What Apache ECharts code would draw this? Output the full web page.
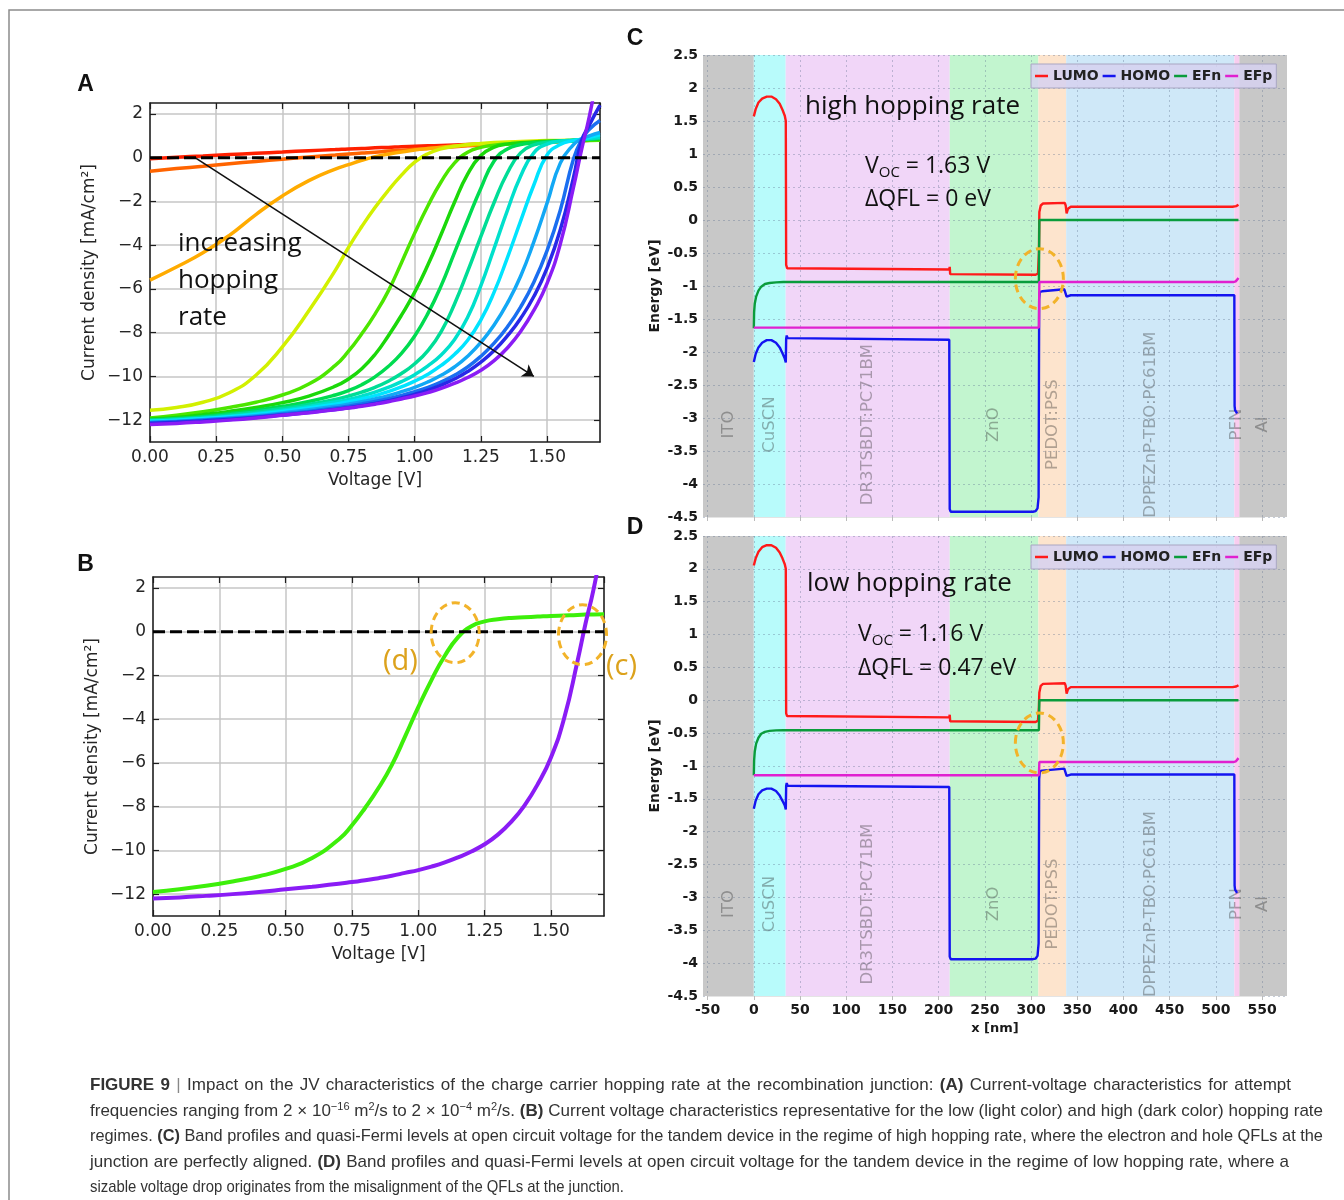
<!DOCTYPE html>
<html>
<head>
<meta charset="utf-8">
<title>Figure 9</title>
<script src="https://cdn.jsdelivr.net/npm/echarts@6.0.0/dist/echarts.min.js"></script>
<style>
  html, body { margin: 0; padding: 0; background: #fff; }
  #chart { position: absolute; left: 0; top: 0; width: 1344px; height: 1200px; }
  #caption { position: absolute; left: 90px; top: 1072px; color: #333;
    font-family: "Liberation Sans Narrow", "Liberation Sans", Arial, sans-serif; font-size: 17px; }
  #caption .row { height: 25.6px; line-height: 25.6px; white-space: nowrap; }
  #caption .ln { display: inline-block; transform-origin: 0 50%; }
  #caption sup { font-size: 11px; line-height: 0; vertical-align: 6px; }
  #caption .bar { color: #888; }
</style>
</head>
<body>
<div id="chart"></div>
<div id="caption">
  <div class="row"><span class="ln"><b>FIGURE 9</b> <span class="bar">|</span> Impact on the JV characteristics of the charge carrier hopping rate at the recombination junction: <b>(A)</b> Current-voltage characteristics for attempt</span></div>
  <div class="row"><span class="ln">frequencies ranging from 2 &times; 10<sup>&minus;16</sup> m<sup>2</sup>/s to 2 &times; 10<sup>&minus;4</sup> m<sup>2</sup>/s. <b>(B)</b> Current voltage characteristics representative for the low (light color) and high (dark color) hopping rate</span></div>
  <div class="row"><span class="ln">regimes. <b>(C)</b> Band profiles and quasi-Fermi levels at open circuit voltage for the tandem device in the regime of high hopping rate, where the electron and hole QFLs at the</span></div>
  <div class="row"><span class="ln">junction are perfectly aligned. <b>(D)</b> Band profiles and quasi-Fermi levels at open circuit voltage for the tandem device in the regime of low hopping rate, where a</span></div>
  <div class="row"><span class="ln">sizable voltage drop originates from the misalignment of the QFLs at the junction.</span></div>
</div>
<script>
var chartDom = document.getElementById('chart');
var myChart = echarts.init(chartDom);
var option;

// ---------- panels A and B: J-V curves (V in volts, J in mA/cm2) ----------
const voltGrid = [0, 0.1, 0.2, 0.3, 0.4, 0.5, 0.6, 0.7, 0.75, 0.8, 0.85, 0.9, 0.95, 1.0, 1.05,
  1.1, 1.15, 1.2, 1.25, 1.3, 1.35, 1.4, 1.45, 1.5, 1.55, 1.6, 1.63, 1.66, 1.7];

const jRed = [-0.05, 0.02, 0.08, 0.14, 0.2, 0.26, 0.32, 0.37, 0.4, 0.42, 0.45, 0.47, 0.5, 0.52, 0.54,
  0.56, 0.58, 0.6, 0.62, 0.64, 0.66, 0.68, 0.7, 0.72, 0.74, 0.76, 0.78, 0.8, 0.82];
const jOrangeRed = [-0.62, -0.5, -0.39, -0.28, -0.17, -0.07, 0.03, 0.12, 0.17, 0.21, 0.25, 0.3, 0.34, 0.38, 0.42,
  0.46, 0.5, 0.54, 0.58, 0.62, 0.65, 0.68, 0.7, 0.72, 0.74, 0.76, 0.78, 0.8, 0.82];
const jOrange = [-5.6, -5.0, -4.35, -3.55, -2.6, -1.75, -1.05, -0.52, -0.32, -0.12, 0.04, 0.16, 0.26, 0.35, 0.42,
  0.48, 0.53, 0.57, 0.61, 0.64, 0.67, 0.7, 0.72, 0.74, 0.76, 0.78, 0.8, 0.81, 0.83];
const jYellow = [-11.55, -11.42, -11.18, -10.75, -9.95, -8.65, -7.0, -5.15, -4.1, -3.15, -2.28, -1.5, -0.8, -0.2, 0.18,
  0.4, 0.52, 0.6, 0.65, 0.69, 0.72, 0.74, 0.76, 0.78, 0.79, 0.8, 0.81, 0.82, 0.84];
const jGreen1 = [-11.9, -11.78, -11.62, -11.42, -11.18, -10.85, -10.35, -9.5, -8.85, -8.05, -7.15, -6.1, -4.8, -3.45, -2.2,
  -1.1, -0.25, 0.25, 0.47, 0.57, 0.63, 0.66, 0.69, 0.72, 0.74, 0.76, 0.78, 0.79, 0.8];
const jGreen2 = [-11.95, -11.88, -11.75, -11.6, -11.42, -11.2, -10.9, -10.45, -10.12, -9.65, -9.0, -8.15, -7.2, -6.15, -4.9,
  -3.5, -2.05, -0.75, 0.1, 0.48, 0.62, 0.68, 0.72, 0.75, 0.77, 0.79, 0.81, 0.83, 0.85];
const jGreen3 = [-12.0, -11.93, -11.83, -11.7, -11.55, -11.37, -11.15, -10.85, -10.65, -10.38, -10.02, -9.55, -8.95, -8.15, -7.12,
  -5.85, -4.35, -2.85, -1.4, -0.15, 0.4, 0.6, 0.68, 0.73, 0.76, 0.79, 0.82, 0.85, 0.88];
const jTeal = [-12.0, -11.95, -11.87, -11.76, -11.63, -11.47, -11.28, -11.05, -10.9, -10.72, -10.5, -10.22, -9.87, -9.42, -8.82,
  -7.95, -6.7, -5.2, -3.6, -2.05, -0.7, 0.22, 0.58, 0.7, 0.76, 0.8, 0.82, 0.86, 0.9];
const jSea = [-12.05, -12.0, -11.92, -11.82, -11.7, -11.55, -11.38, -11.17, -11.05, -10.9, -10.72, -10.5, -10.24, -9.92, -9.52,
  -9.02, -8.33, -7.3, -5.85, -4.15, -2.42, -0.85, 0.22, 0.62, 0.75, 0.8, 0.83, 0.88, 0.95];
const jCyan = [-12.05, -12.0, -11.93, -11.85, -11.74, -11.6, -11.45, -11.27, -11.16, -11.03, -10.88, -10.7, -10.48, -10.22, -9.9,
  -9.5, -9.0, -8.35, -7.42, -6.15, -4.58, -2.9, -1.25, 0.12, 0.6, 0.78, 0.84, 0.93, 1.05];
const jLightBlue = [-12.1, -12.05, -11.98, -11.9, -11.8, -11.67, -11.53, -11.37, -11.27, -11.16, -11.03, -10.88, -10.7, -10.5, -10.25,
  -9.95, -9.57, -9.08, -8.45, -7.65, -6.65, -5.42, -3.85, -2.08, -0.25, 0.6, 0.85, 1.0, 1.15];
const jBlue = [-12.12, -12.07, -12.0, -11.93, -11.84, -11.72, -11.6, -11.45, -11.36, -11.26, -11.15, -11.02, -10.87, -10.7, -10.5,
  -10.25, -9.95, -9.57, -9.08, -8.48, -7.74, -6.83, -5.7, -4.25, -2.4, -0.05, 0.82, 1.3, 1.7];
const jDarkBlue = [-12.15, -12.1, -12.04, -11.97, -11.88, -11.77, -11.65, -11.51, -11.43, -11.34, -11.24, -11.12, -10.98, -10.82, -10.63,
  -10.4, -10.12, -9.78, -9.35, -8.82, -8.15, -7.35, -6.35, -5.05, -3.3, -0.9, 0.75, 1.5, 2.4];
const jViolet = [-12.2, -12.15, -12.08, -12.0, -11.9, -11.78, -11.66, -11.53, -11.45, -11.37, -11.27, -11.16, -11.03, -10.9, -10.74,
  -10.55, -10.32, -10.05, -9.72, -9.28, -8.7, -7.95, -6.98, -5.75, -3.95, -1.35, 0.35, 1.9, 4.4];

const curvesA = [jRed, jOrangeRed, jOrange, jYellow, jGreen1, jGreen2, jGreen3, jTeal, jSea, jCyan,
  jLightBlue, jBlue, jDarkBlue, jViolet];
const colorsA = ['#ff2000', '#ff6400', '#ffab00', '#d2f000', '#4ce600', '#1bd80a', '#00dc50', '#00dd96',
  '#00e0cc', '#00e4ff', '#12a8f5', '#1a6ef0', '#2828e8', '#8a1cf5'];

// panel B: low and high hopping rate
const jvLow = jGreen1;
const jvHigh = jViolet;

const zeroLine = [[0, 0], [1.7, 0]];
const arrowA = [[0.17, 0], [1.45, -10]];
const ringsB = [[1.139, -0.05], [1.619, -0.14]];

// ---------- panels C and D: band profiles (x in nm, E in eV) ----------
const layerNames = ['ITO', 'CuSCN', 'DR3TSBDT:PC71BM', 'ZnO', 'PEDOT:PSS', 'DPPEZnP-TBO:PC61BM', 'PFN', 'Al'];
const layerStart = [-55, 0, 34.5, 212, 308, 338, 520, 525.5];
const layerEnd = [0, 34.5, 212, 308, 338, 520, 525.5, 577];
const layerColors = ['#c8c8c8', '#b8fbfb', '#f1d6f8', '#c2f5cf', '#fde4cd', '#cfe8f8', '#f9cdef', '#c8c8c8'];
const layerLabelE = -3.1;

const lumoC = [[0, 1.57], [2, 1.68], [5, 1.78], [9, 1.84], [14, 1.87], [19, 1.87], [24, 1.83], [28, 1.76], [31, 1.67],
  [33.5, 1.58], [34.6, 1.5], [35, -0.68], [36, -0.73], [38, -0.75], [211.5, -0.75], [212, -0.71], [212.5, -0.82],
  [214, -0.83], [305, -0.83], [307.5, -0.81], [308.5, -0.5], [309, 0.12], [310.5, 0.22], [313, 0.25], [336.5, 0.26],
  [337.5, 0.22], [338.5, 0.1], [340, 0.17], [343, 0.2], [518, 0.2], [522, 0.21], [524.5, 0.23]];
const homoC = [[0, -2.15], [2, -2.03], [5, -1.93], [9, -1.86], [14, -1.82], [19, -1.82], [24, -1.86], [28, -1.93],
  [31, -2.02], [33.5, -2.1], [34.6, -2.16], [35, -1.8], [35.6, -1.75], [36.5, -1.79], [38.5, -1.815], [211.5, -1.815],
  [212, -4.38], [213, -4.42], [302, -4.42], [305, -4.41], [307, -4.37], [308.2, -4.2], [308.8, -1.2], [309.5, -1.09],
  [312, -1.08], [336, -1.05], [337.5, -1.03], [338.5, -1.16], [340, -1.13], [343, -1.14], [520, -1.14], [520.3, -2.82],
  [520.8, -2.88], [522, -2.9], [523, -2.93]];
const efnC = [[0, -1.64], [0.3, -1.4], [1, -1.27], [2.5, -1.16], [5, -1.07], [8, -1.01], [12, -0.97], [17, -0.955],
  [24, -0.945], [32, -0.94], [308.5, -0.94], [309, 0], [524.5, 0]];
const efpC = [[0, -1.63], [308.5, -1.63], [309, -0.94], [519, -0.94], [521.5, -0.93], [523.5, -0.9], [524.5, -0.88]];

const lumoD = [[0, 2.05], [2, 2.16], [5, 2.26], [9, 2.33], [14, 2.36], [19, 2.36], [24, 2.32], [28, 2.25], [31, 2.16],
  [33.5, 2.07], [34.6, 2.0], [35, -0.2], [36, -0.24], [38, -0.26], [211.5, -0.26], [212, -0.22], [212.5, -0.32],
  [214, -0.33], [305, -0.33], [307.5, -0.31], [308.5, -0.1], [309, 0.12], [310.5, 0.22], [313, 0.25], [336.5, 0.26],
  [337.5, 0.22], [338.5, 0.1], [340, 0.17], [343, 0.2], [518, 0.2], [522, 0.21], [524.5, 0.23]];
const homoD = [[0, -1.65], [2, -1.53], [5, -1.43], [9, -1.37], [14, -1.345], [19, -1.345], [24, -1.38], [28, -1.45],
  [31, -1.53], [33.5, -1.6], [34.6, -1.66], [35, -1.3], [35.6, -1.26], [36.5, -1.3], [38.5, -1.32], [211.5, -1.32],
  [212, -3.9], [213, -3.94], [302, -3.94], [305, -3.93], [307, -3.89], [308.2, -3.7], [308.8, -1.2], [309.5, -1.08],
  [312, -1.07], [336, -1.04], [337.5, -1.02], [338.5, -1.15], [340, -1.12], [343, -1.13], [520, -1.13], [520.3, -2.82],
  [520.8, -2.88], [522, -2.9], [523, -2.93]];
const efnD = [[0, -1.14], [0.3, -0.92], [1, -0.78], [2.5, -0.66], [5, -0.57], [8, -0.51], [12, -0.48], [17, -0.465],
  [24, -0.458], [32, -0.455], [308.5, -0.455], [309, 0], [524.5, 0]];
const efpD = [[0, -1.14], [308.5, -1.14], [309, -0.94], [519, -0.94], [521.5, -0.93], [523.5, -0.9], [524.5, -0.88]];

const bandNames = ['LUMO', 'HOMO', 'EFn', 'EFp'];
const bandColors = ['#ff1a1a', '#1414f0', '#0a9c3c', '#e020d0'];
const ringC = [309, -0.89];
const ringD = [309, -0.65];

// ---------- layout ----------
const boxA = {left: 150, top: 103, width: 450, height: 339};
const boxB = {left: 153, top: 577, width: 451, height: 339};
const boxC = {left: 703, top: 55, width: 584, height: 462};
const boxD = {left: 703, top: 536, width: 584, height: 460};

const vRange = [0, 1.7];
const jRange = [-13, 2.5], jTick = [-12, 2];
const eRange = [-4.5, 2.5];
const nmRange = [-55, 577], nmTick = [-50, 550];

// inner boxes carry the tick grid where the frame does not start on a tick
function innerY(box) {
  const k = box.height / (jRange[1] - jRange[0]);
  return {left: box.left, width: box.width, top: box.top + (jRange[1] - jTick[1]) * k, height: (jTick[1] - jTick[0]) * k};
}
function innerX(box) {
  const k = box.width / (nmRange[1] - nmRange[0]);
  return {top: box.top, height: box.height, left: box.left + (nmTick[0] - nmRange[0]) * k, width: (nmTick[1] - nmTick[0]) * k};
}

const pairs = (xs, ys) => xs.map((x, i) => [x, ys[i]]);
const minus = v => (v < 0 ? '\u2212' + Math.abs(v) : String(v));
const jvFont = 'DejaVu Sans';
const annoFont = '"Open Sans", "Noto Sans", sans-serif';

const frameLine = {show: true, onZero: false, lineStyle: {color: '#1e1e1e', width: 1.5}};
const noLine = {show: false, onZero: false};
const tickIn = {show: true, inside: true, length: 6, lineStyle: {color: '#1e1e1e', width: 1.2}};
const jvLabel = {color: '#262626', fontSize: 17, fontFamily: jvFont};
const jvGrid = {show: true, lineStyle: {color: '#c6c6c6', width: 1.5}};
const bandLabel = {color: '#1a1a1a', fontSize: 14, fontWeight: 'bold', fontFamily: 'DejaVu Sans'};
const dotted = {show: true, lineStyle: {color: 'rgba(90,110,140,0.35)', type: [2, 3], width: 1}};
const off = {show: false};

function jvX(g) {
  return [
    {gridIndex: g, type: 'value', min: vRange[0], max: vRange[1], interval: 0.25, position: 'bottom',
      axisLine: frameLine, axisTick: tickIn, splitLine: jvGrid,
      axisLabel: Object.assign({margin: 7, showMaxLabel: false, formatter: v => v.toFixed(2)}, jvLabel),
      name: 'Voltage [V]', nameLocation: 'middle', nameGap: 30,
      nameTextStyle: {fontSize: 17, color: '#262626', fontFamily: jvFont}},
    {gridIndex: g, type: 'value', min: vRange[0], max: vRange[1], interval: 0.25, position: 'top',
      axisLine: frameLine, axisTick: tickIn, axisLabel: off, splitLine: off},
    {gridIndex: g + 1, type: 'value', min: vRange[0], max: vRange[1], show: false, axisLine: noLine}
  ];
}
function jvY(g) {
  return [
    {gridIndex: g, type: 'value', min: jRange[0], max: jRange[1], position: 'left',
      axisLine: frameLine, axisTick: off, axisLabel: off, splitLine: off,
      name: 'Current density [mA/cm\u00b2]', nameLocation: 'middle', nameGap: 52,
      nameTextStyle: {fontSize: 17, color: '#262626', fontFamily: jvFont}},
    {gridIndex: g, type: 'value', min: jRange[0], max: jRange[1], position: 'right',
      axisLine: frameLine, axisTick: off, axisLabel: off, splitLine: off},
    {gridIndex: g + 1, type: 'value', min: jTick[0], max: jTick[1], interval: 2, position: 'left',
      axisLine: noLine, axisTick: tickIn, splitLine: jvGrid,
      axisLabel: Object.assign({margin: 7, formatter: minus}, jvLabel)},
    {gridIndex: g + 1, type: 'value', min: jTick[0], max: jTick[1], interval: 2, position: 'right',
      axisLine: noLine, axisTick: tickIn, axisLabel: off, splitLine: off}
  ];
}
function bandX(g, showLabels) {
  return [
    {gridIndex: g, type: 'value', min: nmRange[0], max: nmRange[1],
      axisLine: noLine, axisTick: off, axisLabel: off, splitLine: off,
      name: showLabels ? 'x [nm]' : '', nameLocation: 'middle', nameGap: 26,
      nameTextStyle: {fontSize: 13, fontWeight: 'bold', color: '#1a1a1a', fontFamily: 'DejaVu Sans'}},
    {gridIndex: g + 1, type: 'value', min: nmTick[0], max: nmTick[1], interval: 50, z: 2,
      axisLine: {show: true, onZero: false, lineStyle: {color: '#e4e4e4'}},
      axisTick: {show: true, length: 4, lineStyle: {color: '#bbbbbb'}},
      axisLabel: Object.assign({show: showLabels, margin: 7}, bandLabel), splitLine: dotted}
  ];
}
function bandY(g) {
  return [
    {gridIndex: g, type: 'value', min: eRange[0], max: eRange[1], interval: 0.5, z: 2,
      axisLine: noLine, axisTick: off, axisLabel: Object.assign({margin: 5}, bandLabel), splitLine: dotted,
      name: 'Energy [eV]', nameLocation: 'middle', nameGap: 41,
      nameTextStyle: {fontSize: 14, fontWeight: 'bold', color: '#1a1a1a', fontFamily: 'DejaVu Sans'}},
    {gridIndex: g + 1, type: 'value', min: eRange[0], max: eRange[1], show: false, axisLine: noLine}
  ];
}

// x: 0 A, 3 B, 6 C, 8 D   y: 0 A, 4 B, 8 C, 10 D
const series = [];
curvesA.forEach((ys, i) => {
  series.push({type: 'line', xAxisIndex: 0, yAxisIndex: 0, data: pairs(voltGrid, ys), symbol: 'none',
    smooth: 0.5, lineStyle: {color: colorsA[i], width: 3.5}, z: 3});
});
series.push({type: 'line', xAxisIndex: 0, yAxisIndex: 0, data: zeroLine, symbol: 'none', z: 5,
  lineStyle: {color: '#000', width: 3, type: [12, 5]},
  markLine: {silent: true, symbol: ['none', 'arrow'], symbolSize: 11, label: {show: false},
    lineStyle: {color: '#111', width: 1.6, type: 'solid'},
    data: [[{coord: arrowA[0]}, {coord: arrowA[1]}]]}});

const idxB = series.length;
series.push({type: 'line', xAxisIndex: 3, yAxisIndex: 4, data: pairs(voltGrid, jvLow), symbol: 'none',
  smooth: 0.5, lineStyle: {color: '#3def0a', width: 4}, z: 3});
series.push({type: 'line', xAxisIndex: 3, yAxisIndex: 4, data: pairs(voltGrid, jvHigh), symbol: 'none',
  smooth: 0.5, lineStyle: {color: '#8a1cf5', width: 4}, z: 3});
series.push({type: 'line', xAxisIndex: 3, yAxisIndex: 4, data: zeroLine, symbol: 'none', z: 5,
  lineStyle: {color: '#000', width: 3, type: [12, 5]}});

function layerSeries(xi, yi) {
  return {type: 'scatter', xAxisIndex: xi, yAxisIndex: yi, symbolSize: 1, silent: true, z: 1,
    itemStyle: {color: 'rgba(0,0,0,0)'},
    data: layerNames.map((n, i) => [(layerStart[i] + layerEnd[i]) / 2, layerLabelE]),
    label: {show: true, position: 'inside', rotate: 90, formatter: p => layerNames[p.dataIndex],
      color: 'rgba(40,40,40,0.45)', fontSize: 16.5, fontFamily: 'DejaVu Sans'},
    markArea: {silent: true, label: {show: false},
      data: layerNames.map((n, i) => [{xAxis: layerStart[i], itemStyle: {color: layerColors[i]}}, {xAxis: layerEnd[i]}])}};
}
function bandSeries(xi, yi, sets) {
  return sets.map((d, i) => ({name: bandNames[i], type: 'line', xAxisIndex: xi, yAxisIndex: yi, data: d,
    symbol: 'none', lineStyle: {color: bandColors[i], width: 2.4}, itemStyle: {color: bandColors[i]}, z: 3}));
}
const idxC = series.length;
series.push(layerSeries(6, 8));
series.push(...bandSeries(6, 8, [lumoC, homoC, efnC, efpC]));
const idxD = series.length;
series.push(layerSeries(8, 10));
series.push(...bandSeries(8, 10, [lumoD, homoD, efnD, efpD]));

function bandLegend(top) {
  return {data: bandNames, left: 1031, top: top, orient: 'horizontal', icon: 'rect', itemWidth: 13, itemHeight: 2.5,
    itemGap: 4, padding: [5, 4], backgroundColor: 'rgba(214,209,240,0.85)', borderColor: '#a9a6c2', borderWidth: 1,
    selectedMode: false, textStyle: {fontFamily: 'DejaVu Sans', fontWeight: 'bold', fontSize: 14, color: '#222'}};
}

option = {
  backgroundColor: '#fff',
  animation: false,
  textStyle: {fontFamily: 'DejaVu Sans'},
  grid: [boxA, innerY(boxA), boxB, innerY(boxB), boxC, innerX(boxC), boxD, innerX(boxD)],
  xAxis: [...jvX(0), ...jvX(2), ...bandX(4, false), ...bandX(6, true)],
  yAxis: [...jvY(0), ...jvY(2), ...bandY(4), ...bandY(6)],
  legend: [bandLegend(64), bandLegend(545)],
  series: series
};
myChart.setOption(option);

// ---------- annotations ----------
const toPx = (si, p) => myChart.convertToPixel({seriesIndex: si}, p);
const ringStyle = {fill: 'none', stroke: '#f2b32a', lineWidth: 3, lineDash: [8, 5]};
function ring(si, p) {
  const c = toPx(si, p);
  return {type: 'ellipse', silent: true, z: 20, shape: {cx: c[0], cy: c[1], rx: 24, ry: 30}, style: ringStyle};
}
function letter(t, x, y) {
  return {type: 'text', x: x, y: y, z: 20, style: {text: t, font: 'bold 23px "Liberation Sans", Arial, sans-serif',
    fill: '#111', align: 'center', verticalAlign: 'middle'}};
}
function note(t, x, y, size, color) {
  return {type: 'text', x: x, y: y, z: 20, style: {text: t, fontSize: size, fontFamily: annoFont,
    fill: color || '#111', align: 'left', verticalAlign: 'middle'}};
}
function voc(value, x, y) {
  return {type: 'text', x: x, y: y, z: 20, style: {text: '{v|V}{s|OC}{v| = ' + value + '}', fill: '#111',
    verticalAlign: 'middle', rich: {
      v: {fontSize: 23, fontFamily: annoFont, fill: '#111'},
      s: {fontSize: 15, fontFamily: annoFont, fill: '#111', padding: [14, 0, 0, 0]}}}};
}

myChart.setOption({
  graphic: [
    {type: 'rect', silent: true, shape: {x: 9, y: 10, width: 1400, height: 1400},
      style: {fill: 'none', stroke: '#8c8c8c', lineWidth: 1.5}},
    letter('A', 85.5, 85), letter('B', 85.5, 565), letter('C', 635, 39), letter('D', 635, 528),
    {type: 'text', x: 178, y: 225.5, z: 20, style: {text: 'increasing\nhopping\nrate', fontSize: 26,
      fontFamily: annoFont, lineHeight: 37, fill: '#111', verticalAlign: 'top'}},
    ring(idxB, ringsB[0]), ring(idxB, ringsB[1]),
    note('(d)', 383, 662, 29, '#dca21c'), note('(c)', 606, 667, 29, '#dca21c'),
    ring(idxC, ringC), ring(idxD, ringD),
    note('high hopping rate', 805, 107, 26),
    voc('1.63 V', 865, 166), note('\u0394QFL = 0 eV', 865, 199, 23),
    note('low hopping rate', 807, 584, 26),
    voc('1.16 V', 858, 634), note('\u0394QFL = 0.47 eV', 858, 668, 23)
  ]
});

// caption: common horizontal squeeze; word spacing widens a line, a tighter squeeze shortens it
const capRight = [1291, 1323, 1323, 1289, 624];
const capEls = Array.from(document.querySelectorAll('#caption .ln'));
const capW = capEls.map(el => el.getBoundingClientRect().width);
let sumT = 0, sumW = 0;
for (let i = 0; i < 4; i++) { sumT += capRight[i] - 90; sumW += capW[i]; }
const capScale = sumT / sumW;
capEls.forEach((el, i) => {
  const target = capRight[i] - 90;
  const gaps = (el.textContent.match(/ /g) || []).length;
  const extra = (target / capScale - capW[i]) / gaps;
  if (extra >= 0) {
    el.style.wordSpacing = extra.toFixed(3) + 'px';
    el.style.transform = 'scaleX(' + capScale.toFixed(4) + ')';
  } else {
    el.style.transform = 'scaleX(' + (target / capW[i]).toFixed(4) + ')';
  }
});
</script>
</body>
</html>
